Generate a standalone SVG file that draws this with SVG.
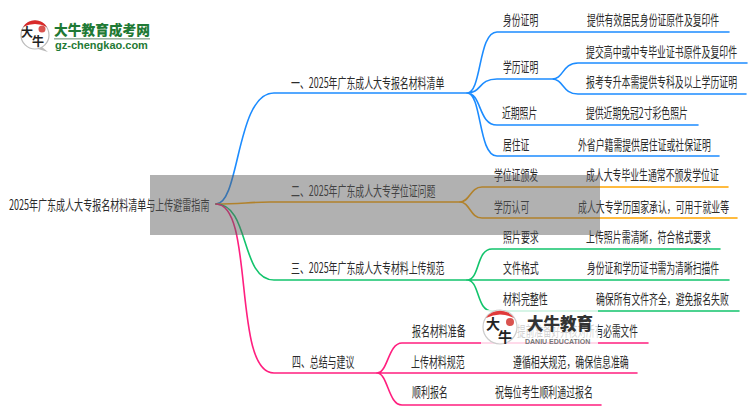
<svg xmlns="http://www.w3.org/2000/svg" width="750" height="410" viewBox="0 0 750 410">
<style>
text{font-family:"Noto Sans CJK SC","Noto Sans",sans-serif;font-size:14px;fill:#2b2b2b}
.c{fill:none;stroke-width:1.6;stroke-linecap:round}
.b{stroke:#1c8cff}.o{stroke:#ffa500}.g{stroke:#12c46c}.p{stroke:#ff1f7f}
.lt{font-weight:700;fill:#1f7a35}
</style>
<rect width="750" height="410" fill="#fff"/>
<g id="connectors">
<path class="c b" d="M216 204C240 204 236 93 274 93H467"/>
<path class="c b" d="M467 93C482 93 478 32 497 32H729M467 93C482 93 478 79 497 79H552M552 79C564 79 562 63 578 63H747M552 79C564 79 562 94 578 94H746M467 93C482 93 478 125 497 125H698M467 93C482 93 478 156 497 156H719"/>
<path class="c o" d="M216 204C240 204 250 202 270 202H460"/>
<path class="c o" d="M460 202C470 202 470 187 482 187H728M460 202C470 202 470 218 482 218H737"/>
<path class="c g" d="M216 204C250 204 240 280 274 280H467"/>
<path class="c g" d="M467 280C480 280 476 249 492 249H720M467 280H729M467 280C480 280 476 311 492 311H739"/>
<path class="c p" d="M216 204C255 204 232 373 274 373H377"/>
<path class="c p" d="M377 373C388 373 388 343 402 343H648M377 373H637M377 373C388 373 388 405 402 405H601"/>
</g>
<g id="root"><text transform="translate(9 210) scale(.645 1)">2025年广东成人大专报名材料清单与上传避雷指南</text></g>
<g id="n1"><text transform="translate(291 88) scale(.637 1)">一、2025年广东成人大专报名材料清单</text></g>
<g id="n2"><text transform="translate(291 196) scale(.637 1)">二、2025年广东成人大专学位证问题</text></g>
<g id="n3"><text transform="translate(291 273) scale(.637 1)">三、2025年广东成人大专材料上传规范</text></g>
<g id="n4"><text transform="translate(292 367) scale(.637 1)">四、总结与建议</text></g>
<g id="n1-1"><text transform="translate(503 25) scale(.63 1)">身份证明</text><text transform="translate(587 25) scale(.63 1)">提供有效居民身份证原件及复印件</text></g>
<g id="n1-2"><text transform="translate(503 72) scale(.63 1)">学历证明</text><text transform="translate(586 57) scale(.635 1)">提交高中或中专毕业证书原件及复印件</text><text transform="translate(586 87) scale(.635 1)">报考专升本需提供专科及以上学历证明</text></g>
<g id="n1-3"><text transform="translate(502 118) scale(.63 1)">近期照片</text><text transform="translate(586 118) scale(.63 1)">提供近期免冠2寸彩色照片</text></g>
<g id="n1-4"><text transform="translate(503 150) scale(.63 1)">居住证</text><text transform="translate(578 150) scale(.633 1)">外省户籍需提供居住证或社保证明</text></g>
<g id="n2-1"><text transform="translate(494 180) scale(.63 1)">学位证颁发</text><text transform="translate(586 180) scale(.633 1)">成人大专毕业生通常不颁发学位证</text></g>
<g id="n2-2"><text transform="translate(494 212) scale(.63 1)">学历认可</text><text transform="translate(578 212) scale(.635 1)">成人大专学历国家承认，可用于就业等</text></g>
<g id="n3-1"><text transform="translate(503 242) scale(.64 1)">照片要求</text><text transform="translate(586 242) scale(.638 1)">上传照片需清晰，符合格式要求</text></g>
<g id="n3-2"><text transform="translate(503 273) scale(.64 1)">文件格式</text><text transform="translate(587 273) scale(.63 1)">身份证和学历证书需为清晰扫描件</text></g>
<g id="n3-3"><text transform="translate(503 304) scale(.64 1)">材料完整性</text><text transform="translate(596 304) scale(.633 1)">确保所有文件齐全，避免报名失败</text></g>
<g id="n4-1"><text transform="translate(412 336) scale(.64 1)">报名材料准备</text><text transform="translate(517 336) scale(.617 1)">提前准备好并核对所有必需文件</text></g>
<g id="n4-2"><text transform="translate(411 367) scale(.64 1)">上传材料规范</text><text transform="translate(513 367) scale(.637 1)">遵循相关规范，确保信息准确</text></g>
<g id="n4-3"><text transform="translate(412 397) scale(.64 1)">顺利报名</text><text transform="translate(495 397) scale(.636 1)">祝每位考生顺利通过报名</text></g>
<rect id="band" x="150" y="175" width="450" height="60" fill="#5b5b5b" fill-opacity=".48"/>
<g id="logo-top">
<circle cx="35" cy="35" r="14" fill="#fff" stroke="#bbb" stroke-width="1.2"/>
<path d="M23 27A14 14 0 0 1 47 27Q35 21 23 27Z" fill="#d92a2a"/>
<path d="M42 47L48 52L38 49Z" fill="#bbb"/>
<circle cx="42" cy="29" r="3.5" fill="#d9534f"/>
<text x="21" y="37" style="font-size:12px;font-weight:700;fill:#222">大</text>
<text x="32" y="46" style="font-size:12px;font-weight:700;fill:#222">牛</text>
<text class="lt" transform="translate(54 35) scale(.98 1)" style="font-size:14px;font-weight:900">大牛教育成考网</text>
<rect x="54" y="38" width="96" height="1.6" fill="#9db5a2"/>
<text class="lt" transform="translate(55 49)" style="font-size:11px;font-family:'Liberation Sans',sans-serif">gz-chengkao.com</text>
</g>
<g id="logo-bottom">
<rect x="481" y="310" width="117" height="36" fill="#fff" fill-opacity=".78"/>
<circle cx="500" cy="327" r="17" fill="#fff" fill-opacity=".85" stroke="#ccc" stroke-width="1.2"/>
<path d="M486 318A17 17 0 0 1 514 318Q500 311 486 318Z" fill="#e03a3a"/>
<circle cx="510" cy="322" r="4" fill="#d9534f"/>
<text x="486" y="329" style="font-size:14px;font-weight:700;fill:#222">大</text>
<text x="498" y="342" style="font-size:14px;font-weight:700;fill:#222">牛</text>
<text transform="translate(527 330)" style="font-size:16.5px;font-weight:900;fill:#333">大牛教育</text>
<text transform="translate(525 344)" style="font-size:7px;font-weight:700;fill:#777;font-family:'Liberation Sans',sans-serif">DANIU EDUCATION</text>
</g>
</svg>
